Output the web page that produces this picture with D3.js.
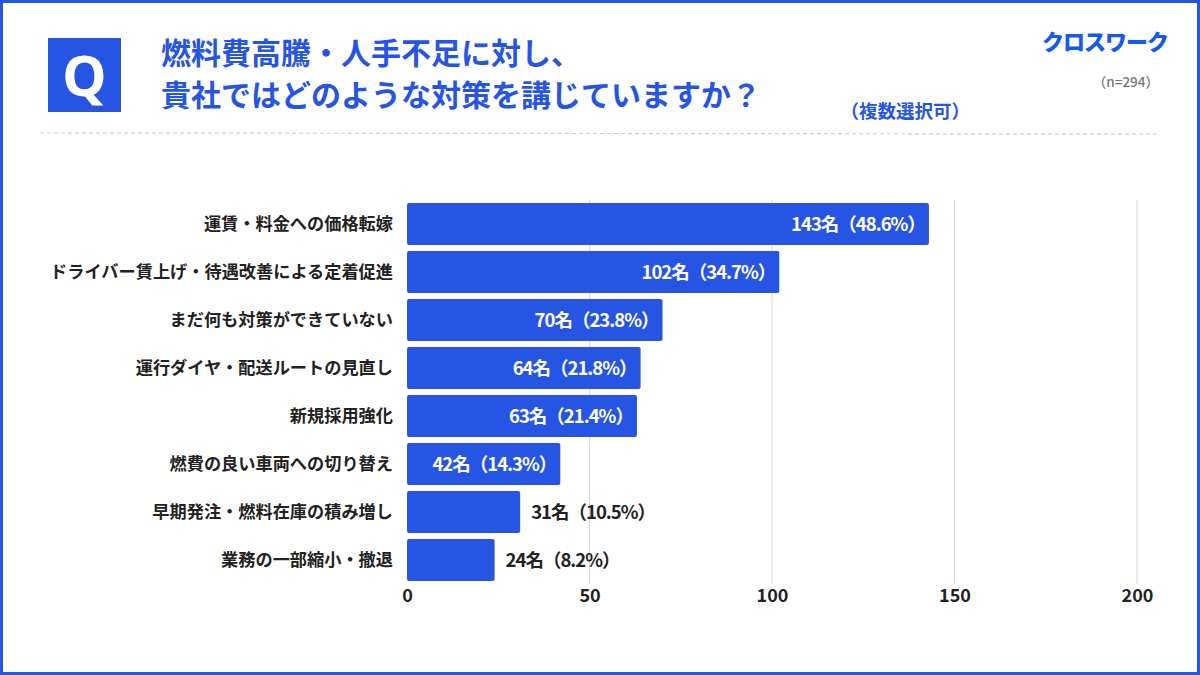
<!DOCTYPE html>
<html>
<head>
<meta charset="utf-8">
<script src="https://cdn.jsdelivr.net/npm/d3@7"></script>
<style>
  body { margin: 0; background: #fff; }
  svg { display: block; font-family: "Noto Sans CJK JP", "Noto Sans", sans-serif; }
</style>
</head>
<body>
<div id="chart"></div>
<script>
// Categories, counts and percentages
var categories = [
  "運賃・料金への価格転嫁",
  "ドライバー賃上げ・待遇改善による定着促進",
  "まだ何も対策ができていない",
  "運行ダイヤ・配送ルートの見直し",
  "新規採用強化",
  "燃費の良い車両への切り替え",
  "早期発注・燃料在庫の積み増し",
  "業務の一部縮小・撤退"
];
var counts = [143, 102, 70, 64, 63, 42, 31, 24];
var percents = ["48.6", "34.7", "23.8", "21.8", "21.4", "14.3", "10.5", "8.2"];
var xTicks = [0, 50, 100, 150, 200];

var W = 1200, H = 675;
var blue = "#2654e3";

var svg = d3.select("#chart").append("svg")
    .attr("width", W)
    .attr("height", H);

// Frame
svg.append("rect")
    .attr("x", 1.5).attr("y", 1.5)
    .attr("width", W - 3).attr("height", H - 3)
    .attr("fill", "#fff")
    .attr("stroke", blue)
    .attr("stroke-width", 3);

// Q box
svg.append("rect")
    .attr("x", 48).attr("y", 38)
    .attr("width", 73).attr("height", 74)
    .attr("fill", blue);
svg.append("text")
    .attr("x", 84.5).attr("y", 96)
    .attr("text-anchor", "middle")
    .attr("fill", "#fff")
    .style("font-family", "'Noto Sans', sans-serif")
    .style("font-weight", 700)
    .style("font-size", "56px")
    .text("Q");

// Title
var title = svg.append("text")
    .attr("fill", blue)
    .style("font-weight", 700)
    .style("font-size", "30px");
title.append("tspan").attr("x", 161).attr("y", 64).text("燃料費高騰・人手不足に対し、");
title.append("tspan").attr("x", 161).attr("y", 106).text("貴社ではどのような対策を講じていますか？");

svg.append("text")
    .attr("x", 970).attr("y", 118)
    .attr("text-anchor", "end")
    .attr("fill", blue)
    .style("font-weight", 700)
    .style("font-size", "18.5px")
    .text("（複数選択可）");

// Logo
svg.append("text")
    .attr("x", 1168).attr("y", 50)
    .attr("text-anchor", "end")
    .attr("fill", "#1559e8")
    .style("font-weight", 900)
    .style("font-size", "22px")
    .style("letter-spacing", "-1px")
    .text("クロスワーク");

svg.append("text")
    .attr("x", 1159).attr("y", 87)
    .attr("text-anchor", "end")
    .attr("fill", "#777")
    .style("font-size", "13.5px")
    .style("font-weight", 500)
    .text("（n=294）");

// Dashed separator
svg.append("line")
    .attr("x1", 40).attr("x2", 1160)
    .attr("y1", 133).attr("y2", 134)
    .attr("stroke", "#d0d0d0")
    .attr("stroke-width", 1.2)
    .attr("stroke-dasharray", "4,3");

// Scales
var x = d3.scaleLinear()
    .domain([0, 200])
    .range([407, 1137]);

var y = d3.scaleBand()
    .domain(categories)
    .range([200, 584])
    .paddingInner(0.125)
    .paddingOuter(0.0625);

// Grid lines
svg.selectAll("line.grid").data(xTicks.slice(1)).enter()
    .append("line")
        .attr("class", "grid")
        .attr("x1", function(d) { return x(d); })
        .attr("x2", function(d) { return x(d); })
        .attr("y1", 200)
        .attr("y2", 584)
        .attr("stroke", "#d9d9d9")
        .attr("stroke-width", 1);

// Bottom axis (labels only)
var axis = svg.append("g")
    .attr("transform", "translate(0,584)")
    .call(d3.axisBottom(x).tickValues(xTicks).tickSize(0).tickPadding(5));
axis.select(".domain").remove();
axis.selectAll("text")
    .attr("fill", "#222")
    .style("font-family", "'Noto Sans CJK JP', sans-serif")
    .style("font-size", "18px")
    .style("font-weight", 700);

// Bars
svg.selectAll("rect.bar").data(counts).enter()
    .append("rect")
        .attr("class", "bar")
        .attr("x", x(0))
        .attr("y", function(d, i) { return y(categories[i]); })
        .attr("width", function(d) { return x(d) - x(0); })
        .attr("height", y.bandwidth())
        .attr("rx", 2)
        .attr("fill", blue);

// Category labels
svg.selectAll("text.cat").data(categories).enter()
    .append("text")
        .attr("class", "cat")
        .attr("x", 393)
        .attr("y", function(d) { return y(d) + y.bandwidth() / 2; })
        .attr("dy", "0.36em")
        .attr("text-anchor", "end")
        .attr("fill", "#222")
        .style("font-size", "17.2px")
        .style("font-weight", 700)
        .text(function(d) { return d; });

// Value labels: inside for long bars, outside for short ones
svg.selectAll("text.val").data(counts).enter()
    .append("text")
        .attr("class", "val")
        .attr("x", function(d) { return d >= 40 ? x(d) - 4 : x(d) + 11; })
        .attr("y", function(d, i) { return y(categories[i]) + y.bandwidth() / 2; })
        .attr("dy", "0.36em")
        .attr("text-anchor", function(d) { return d >= 40 ? "end" : "start"; })
        .attr("fill", function(d) { return d >= 40 ? "#fff" : "#222"; })
        .style("font-size", "18.5px")
        .style("font-weight", 700)
        .style("letter-spacing", "-1px")
        .text(function(d, i) { return d + "名（" + percents[i] + "%）"; });
</script>
</body>
</html>
